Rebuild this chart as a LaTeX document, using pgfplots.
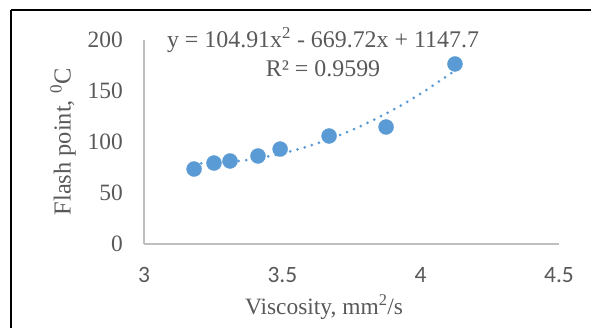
\documentclass[border=0pt]{standalone}
\usepackage{pgfplots}
\pgfplotsset{compat=1.18}
\usepackage{fontspec}
\setmainfont{Liberation Serif}
\newfontfamily\calibri{Carlito}
\definecolor{txt}{HTML}{595959}
\definecolor{axl}{HTML}{BFBFBF}
\definecolor{mk}{HTML}{5B9BD5}
\begin{document}
\begin{tikzpicture}[x=1bp,y=1bp]
\path[use as bounding box] (0bp,0bp) rectangle (591bp,328bp);
\draw[black,line width=1.5bp] (11bp,318bp) -- (591bp,318bp);
\draw[black,line width=1.5bp] (11bp,318bp) -- (11bp,0bp);
\begin{axis}[
  at={(144bp,84bp)}, anchor=south west,
  scale only axis, width=415bp, height=204bp,
  xmin=3, xmax=4.5, ymin=0, ymax=200,
  xtick={3,3.5,4,4.5}, ytick={0,50,100,150,200},
  axis x line*=bottom, axis y line*=left,
  axis line style={axl, line width=1.5bp, -},
  major tick length=0pt,
  clip=false,
  font=\fontsize{23.5}{28}\selectfont,
  /pgf/number format/assume math mode=true,
  tick label style={txt},
  yticklabel style={anchor=east, inner sep=0pt, xshift=-21bp},
  xticklabel style={anchor=center, inner sep=0pt, yshift=-31bp, font=\fontsize{23.5}{28}\selectfont\calibri},
  xlabel={Viscosity, mm\textsuperscript{2}/s},
  ylabel={Flash point, \textsuperscript{0}C},
  xlabel style={txt, at={(axis description cs:0.434,-0.3088)}, anchor=center, inner sep=0pt},
  ylabel style={txt, at={(axis description cs:-0.1952,0.5)}, anchor=center, inner sep=0pt, font=\fontsize{24.5}{29}\selectfont},
]
\addplot[mk, line width=3bp, line cap=round, dash pattern=on 0pt off 7.5bp, smooth] coordinates {
(3.18,78.88) (3.25,79.22) (3.3,80.09) (3.4,83.41) (3.5,88.83) (3.6,96.34)
(3.7,105.96) (3.8,117.66) (3.9,131.47) (4.0,147.38) (4.12,169.24)
};
\addplot[only marks, mark=*, mark size=7.5bp, mk, mark options={draw=mk, fill=mk}] coordinates {
(3.181,73.5) (3.253,79.4) (3.311,81.4) (3.412,86.3) (3.492,93.1)
(3.669,105.9) (3.875,114.7) (4.124,176.5)
};
\node[txt, anchor=base, inner sep=0pt, font=\fontsize{24}{28}\selectfont] at (axis cs:3.647,192.2) {y = 104.91x\textsuperscript{2} - 669.72x + 1147.7};
\node[txt, anchor=base, inner sep=0pt, font=\fontsize{24}{28}\selectfont] at (axis cs:3.647,164.7) {R² = 0.9599};
\end{axis}
\end{tikzpicture}
\end{document}
